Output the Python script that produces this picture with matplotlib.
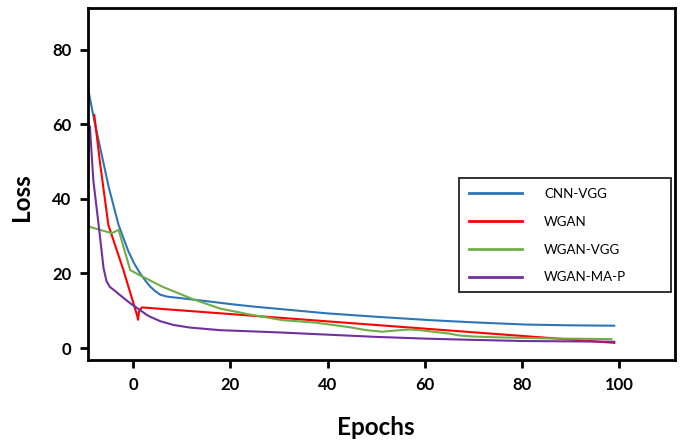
import matplotlib
matplotlib.use("Agg")
import matplotlib.pyplot as plt
from matplotlib.patches import Rectangle

# ---- data ----
cnn_x = [-9.2, -8.0, -6.8, -5.0, -3.0, -1.0, 0.2, 1.4, 2.5, 3.5, 4.5, 5.6, 7.0, 8.3, 9.7, 11.7, 15, 20, 25, 30, 40, 50, 61, 70, 81, 90, 99]
cnn_y = [69.0, 61.0, 53.8, 43.0, 33.0, 26.0, 22.7, 20.1, 18.1, 16.5, 15.3, 14.3, 13.8, 13.6, 13.4, 13.1, 12.6, 11.8, 11.1, 10.5, 9.3, 8.4, 7.5, 6.9, 6.3, 6.1, 6.0]

wgan_x = [-8.0, -6.8, -5.1, -2.0, 0.8, 1.0, 1.2, 1.8, 99]
wgan_y = [62.5, 49.5, 33.0, 20.9, 8.8, 7.6, 9.8, 10.9, 1.4]

wvgg_x = [-9.2, -6.8, -4.4, -3.0, -0.6, 1.4, 6.1, 9.7, 12.3, 17.9, 24, 30.7, 37.7, 44.5, 48, 51.2, 54, 56.8, 59, 61, 65, 67, 70, 74.6, 85, 98.4]
wvgg_y = [32.6, 31.7, 30.8, 31.7, 20.9, 19.5, 16.4, 14.5, 13.1, 10.6, 9.0, 7.5, 6.8, 5.6, 4.8, 4.4, 4.7, 5.0, 4.8, 4.5, 3.9, 3.4, 3.1, 2.9, 2.6, 2.4]

wmap_x = [-8.9, -8.2, -7.1, -6.1, -5.5, -4.8, -3.8, -2.7, -0.6, 1.4, 2.8, 3.5, 5.6, 8.3, 11.7, 17.9, 26.1, 30, 40, 50, 61, 70, 80, 90, 99]
wmap_y = [59.4, 45.0, 33.0, 21.5, 18.0, 16.4, 15.4, 14.2, 12.0, 10.2, 8.9, 8.4, 7.2, 6.2, 5.5, 4.8, 4.4, 4.2, 3.6, 3.0, 2.5, 2.2, 1.9, 1.8, 1.7]

labels = ["CNN-VGG", "WGAN", "WGAN-VGG", "WGAN-MA-P"]
colors = ["#2E75B6", "#FF0000", "#70AD47", "#7030A0"]

xticks = [0, 20, 40, 60, 80, 100]
yticks = [0, 20, 40, 60, 80]

plt.rcParams['font.family'] = ['Lato', 'DejaVu Sans']

fig = plt.figure(figsize=(6.83, 4.42), dpi=100)
ax = fig.add_axes([0.1288, 0.1855, 0.8595, 0.7964])

series = [(cnn_x, cnn_y), (wgan_x, wgan_y), (wvgg_x, wvgg_y), (wmap_x, wmap_y)]
for (xs, ys), lab, c in zip(series, labels, colors):
    ax.plot(xs, ys, color=c, lw=1.5, label=lab)

ax.set_xlim(-9.3, 111.5)
ax.set_ylim(-3.2, 91.2)
ax.set_xticks(xticks)
ax.set_yticks(yticks)
for s in ax.spines.values():
    s.set_linewidth(2)
    s.set_color('black')
ax.tick_params(axis='both', direction='out', length=6, width=2, labelsize=12, pad=6)
for t in ax.get_xticklabels() + ax.get_yticklabels():
    t.set_fontweight('bold')

fig.text(0.55, 0.032, "Epochs", ha='center', va='center', fontsize=17.5, fontweight='bold')
fig.text(0.032, 0.555, "Loss", ha='center', va='center', rotation=90, fontsize=17.5, fontweight='bold')

# legend frame drawn as a box, legend entries without own frame
ax.add_patch(Rectangle((0.632, 0.193), 0.361, 0.324, transform=ax.transAxes,
                       facecolor='white', edgecolor='#222222', lw=1.3, zorder=5))
leg = ax.legend(loc='upper left', bbox_to_anchor=(0.632, 0.517), frameon=False,
                fontsize=9.5, handlelength=4.0, handletextpad=1.7,
                labelspacing=1.2, borderpad=0.75, borderaxespad=0)
leg.set_zorder(6)
for h in leg.get_lines():
    h.set_linewidth(2)

fig.savefig("out.png", dpi=100)
